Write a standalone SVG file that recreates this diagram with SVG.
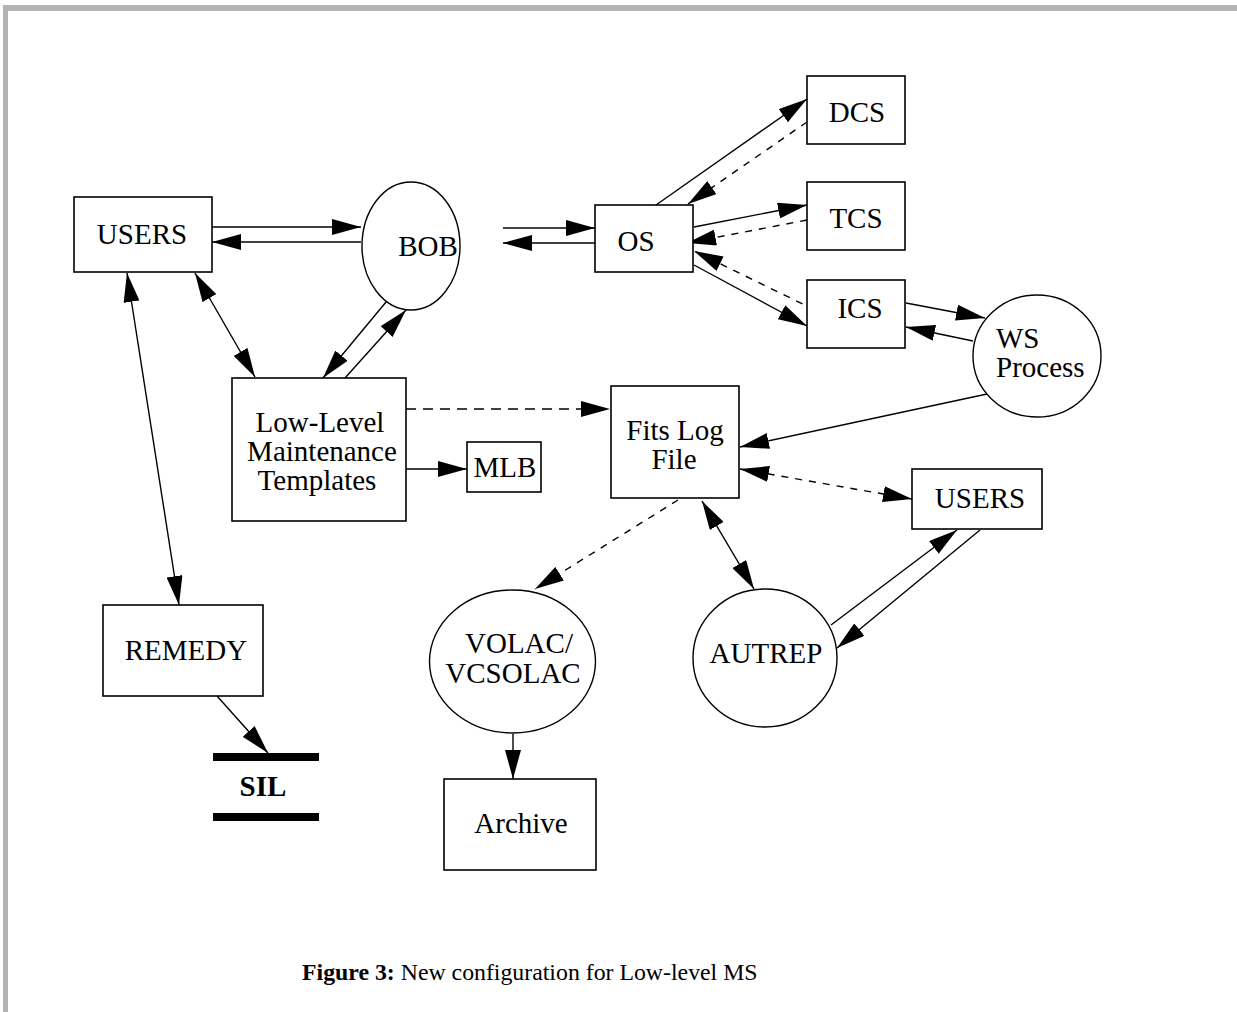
<svg xmlns="http://www.w3.org/2000/svg" width="1237" height="1012" viewBox="0 0 1237 1012">
  <style>
    .box { fill: #fff; stroke: #000; stroke-width: 1.6; }
    .oval { fill: #fff; stroke: #000; stroke-width: 1.4; }
    .lbl { font-family: "Liberation Serif", "Times New Roman", serif; font-size: 29px; fill: #000; text-anchor: middle; }
    .lft { text-anchor: start; }
    .bold { font-weight: bold; }
    .cap { font-family: "Liberation Serif", "Times New Roman", serif; font-size: 23.8px; fill: #000; }
    .wire { fill: none; stroke: #000; stroke-width: 1.4; }
    .one { marker-end: url(#head); }
    .two { marker-start: url(#head); marker-end: url(#head); }
    .dash { stroke-dasharray: 10 7; }
    .dot { stroke-dasharray: 7 7; }
    .bar { fill: #000; }
  </style>
  <defs>
    <marker id="head" viewBox="0 0 29 16" refX="29" refY="8" markerWidth="29" markerHeight="16" markerUnits="userSpaceOnUse" orient="auto-start-reverse">
      <path d="M0,0 L29,8 L0,16 Z" fill="#000"/>
    </marker>
  </defs>

  <!-- page frame -->
  <rect x="3" y="5" width="1234" height="6" fill="#b3b3b3"/>
  <rect x="3" y="5" width="5" height="1007" fill="#b3b3b3"/>

  <!-- connectors -->
  <g id="connectors">
    <line class="wire one" x1="212" y1="227" x2="361" y2="227"/>
    <line class="wire one" x1="361" y1="242" x2="212" y2="242"/>
    <line class="wire two" x1="195" y1="273" x2="255" y2="377"/>
    <line class="wire two" x1="127" y1="273" x2="179" y2="605"/>
    <line class="wire one" x1="391" y1="296" x2="323" y2="378"/>
    <line class="wire one" x1="345" y1="378" x2="406" y2="310"/>
    <line class="wire one" x1="503" y1="228" x2="595" y2="228"/>
    <line class="wire one" x1="595" y1="243" x2="503" y2="243"/>
    <line class="wire one" x1="656" y1="205" x2="807" y2="99"/>
    <line class="wire one dot" x1="807" y1="122" x2="688" y2="204"/>
    <line class="wire one" x1="694" y1="227" x2="807" y2="205"/>
    <line class="wire one dot" x1="807" y1="220" x2="687" y2="243"/>
    <line class="wire one" x1="694" y1="265" x2="807" y2="326"/>
    <line class="wire one dot" x1="815" y1="310" x2="694" y2="251"/>
    <line class="wire one" x1="906" y1="303" x2="985" y2="318"/>
    <line class="wire one" x1="973" y1="341" x2="906" y2="327"/>
    <line class="wire one" x1="987" y1="394" x2="740" y2="447"/>
    <line class="wire two dot" x1="740" y1="469" x2="912" y2="499"/>
    <line class="wire one dash" x1="406" y1="409" x2="610" y2="409"/>
    <line class="wire one" x1="406" y1="469" x2="467" y2="469"/>
    <line class="wire one dot" x1="678" y1="500" x2="535" y2="589"/>
    <line class="wire two" x1="702" y1="501" x2="754" y2="589"/>
    <line class="wire one" x1="513" y1="734" x2="513" y2="779"/>
    <line class="wire one" x1="831" y1="625" x2="957" y2="530"/>
    <line class="wire one" x1="980" y1="530" x2="837" y2="648"/>
    <line class="wire one" x1="217" y1="696" x2="268" y2="753"/>
  </g>

  <!-- nodes -->
  <g id="users-left">
    <rect class="box" x="74" y="197" width="138" height="75"/>
    <text class="lbl" x="142" y="244">USERS</text>
  </g>
  <g id="bob">
    <ellipse class="oval" cx="411" cy="246" rx="49" ry="64"/>
    <text class="lbl" x="428" y="256">BOB</text>
  </g>
  <g id="os">
    <rect class="box" x="595" y="205" width="98" height="67"/>
    <text class="lbl" x="636" y="251">OS</text>
  </g>
  <g id="dcs">
    <rect class="box" x="807" y="76" width="98" height="68"/>
    <text class="lbl" x="857" y="122">DCS</text>
  </g>
  <g id="tcs">
    <rect class="box" x="807" y="182" width="98" height="68"/>
    <text class="lbl" x="856" y="228">TCS</text>
  </g>
  <g id="ics">
    <rect class="box" x="807" y="280" width="98" height="68"/>
    <text class="lbl" x="860" y="318">ICS</text>
  </g>
  <g id="ws-process">
    <ellipse class="oval" cx="1037" cy="356" rx="64" ry="61"/>
    <text class="lbl lft" x="996" y="348">WS</text>
    <text class="lbl lft" x="996" y="377">Process</text>
  </g>
  <g id="templates">
    <rect class="box" x="232" y="378" width="174" height="143"/>
    <text class="lbl" x="320" y="432">Low-Level</text>
    <text class="lbl" x="322" y="461">Maintenance</text>
    <text class="lbl" x="317" y="490">Templates</text>
  </g>
  <g id="mlb">
    <rect class="box" x="467" y="442" width="74" height="50"/>
    <text class="lbl" x="505" y="477">MLB</text>
  </g>
  <g id="fits-log">
    <rect class="box" x="611" y="386" width="128" height="112"/>
    <text class="lbl" x="675" y="440">Fits Log</text>
    <text class="lbl" x="674" y="469">File</text>
  </g>
  <g id="users-right">
    <rect class="box" x="912" y="469" width="130" height="60"/>
    <text class="lbl" x="980" y="508">USERS</text>
  </g>
  <g id="volac">
    <ellipse class="oval" cx="512.5" cy="661.5" rx="83" ry="71.5"/>
    <text class="lbl" x="519" y="653">VOLAC/</text>
    <text class="lbl" x="513" y="683">VCSOLAC</text>
  </g>
  <g id="autrep">
    <ellipse class="oval" cx="765" cy="658" rx="72" ry="69"/>
    <text class="lbl" x="766" y="663">AUTREP</text>
  </g>
  <g id="archive">
    <rect class="box" x="444" y="779" width="152" height="91"/>
    <text class="lbl" x="521" y="833">Archive</text>
  </g>
  <g id="remedy">
    <rect class="box" x="103" y="605" width="160" height="91"/>
    <text class="lbl" x="186" y="660">REMEDY</text>
  </g>
  <g id="sil">
    <rect class="bar" x="213" y="753" width="106" height="8"/>
    <text class="lbl bold" x="263" y="796">SIL</text>
    <rect class="bar" x="213" y="813" width="106" height="8"/>
  </g>

  <!-- caption -->
  <text class="cap" x="302" y="980"><tspan font-weight="bold">Figure 3:</tspan> New configuration for Low-level MS</text>
</svg>
